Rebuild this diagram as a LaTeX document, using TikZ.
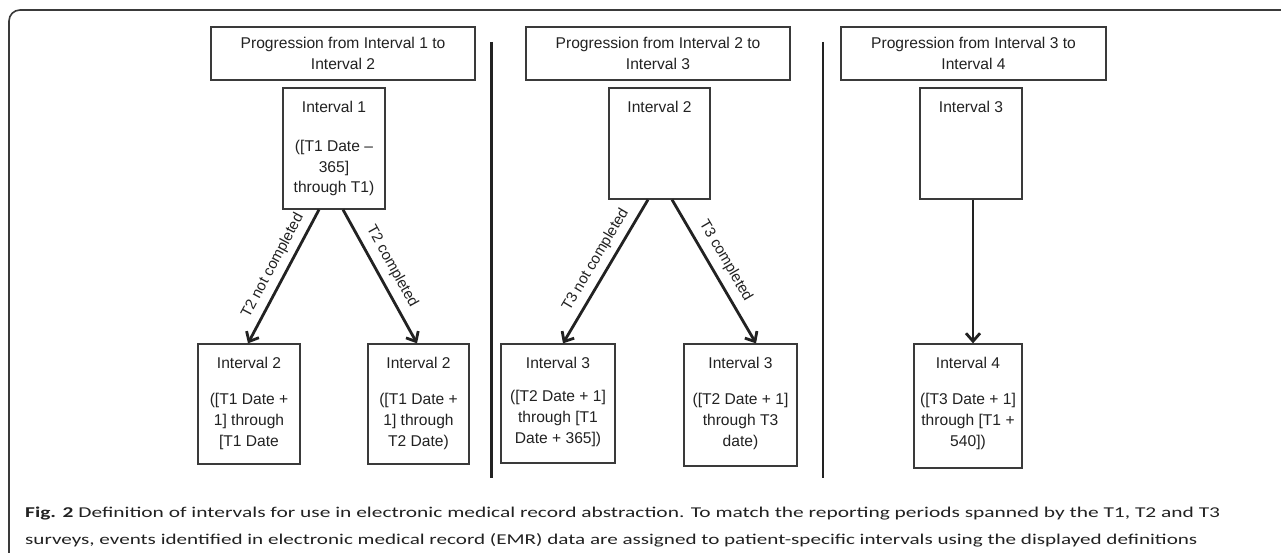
\documentclass[tikz,border=0pt]{standalone}
\usepackage{fontspec}
\setmainfont{Liberation Sans}
\newfontfamily\capfont{Carlito}
\usetikzlibrary{arrows.meta,calc}
\definecolor{ink}{HTML}{222222}
\definecolor{frame}{HTML}{3a3a3a}
\begin{document}
\begin{tikzpicture}[x=1pt,y=-1pt,
  box/.style={draw=frame, line width=1.3pt, inner sep=0, fill=white},
  hd/.style={font=\fontsize{15.6}{20.5}\selectfont, text=ink, anchor=base, inner sep=0},
  bd/.style={font=\fontsize{15.6}{20.8}\selectfont, text=ink, anchor=north, inner sep=0, align=center},
  ttl/.style={font=\fontsize{15.6}{20.6}\selectfont, text=ink, align=center, inner sep=0},
  arr/.style={draw=ink, line width=2.8pt, -{Straight Barb[length=8pt,width=14pt]}},
  lbl/.style={font=\fontsize{15}{18}\selectfont, text=ink, sloped, inner sep=2pt},
  divider/.style={draw=ink, line width=2.6pt},
  capline/.style={anchor=base west, inner sep=0, text=ink}]
\useasboundingbox (0,0) rectangle (1281,553);
\fill[white] (0,0) rectangle (1281,553);
% frame
\coordinate (fb) at (9,553);
\coordinate (fc) at (9,10);
\coordinate (fr) at (1282,10);
\draw[frame, line width=1.6pt, rounded corners=11pt] (fb) -- (fc) -- (fr);
% dividers
\coordinate (d1t) at (491.5,42);
\coordinate (d1b) at (491.5,478);
\coordinate (d2t) at (823,42);
\coordinate (d2b) at (823,478);
\draw[divider] (d1t) -- (d1b);
\draw[divider] (d2t) -- (d2b);
% title boxes
\node[box, minimum width=264pt, minimum height=53pt] (t1) at (343,53.5) {};
\node[ttl] (t1t) at (t1.center) {Progression from Interval 1 to\\Interval 2};
\node[box, minimum width=264pt, minimum height=53pt] (t2) at (658,53.5) {};
\node[ttl] (t2t) at (t2.center) {Progression from Interval 2 to\\Interval 3};
\node[box, minimum width=265pt, minimum height=53pt] (t3) at (973.5,53.5) {};
\node[ttl] (t3t) at (t3.center) {Progression from Interval 3 to\\Interval 4};
% upper interval boxes
\node[box, minimum width=102pt, minimum height=121pt] (i1) at (334,148.5) {};
\node[hd] (i1h) at ([yshift=-25pt]i1.north) {Interval 1};
\node[bd] (i1b) at ([yshift=-52.5pt]i1.north) {([T1 Date –\\365]\\through T1)};
\node[box, minimum width=101pt, minimum height=111pt] (i2) at (659.5,143.5) {};
\node[hd] (i2h) at ([yshift=-25pt]i2.north) {Interval 2};
\node[box, minimum width=102pt, minimum height=111pt] (i3) at (971,143.5) {};
\node[hd] (i3h) at ([yshift=-25pt]i3.north) {Interval 3};
% lower interval boxes
\node[box, minimum width=102pt, minimum height=120pt] (a) at (249,404) {};
\node[hd] (ah) at ([yshift=-25.5pt]a.north) {Interval 2};
\node[bd] (ab) at ([yshift=-50pt]a.north) {([T1 Date +\\1] through\\{}[T1 Date};
\node[box, minimum width=101pt, minimum height=120pt] (b) at (418.5,404) {};
\node[hd] (bh) at ([yshift=-25.5pt]b.north) {Interval 2};
\node[bd] (bb) at ([yshift=-50pt]b.north) {([T1 Date +\\1] through\\T2 Date)};
\node[box, minimum width=114pt, minimum height=119pt] (c) at (558,403.5) {};
\node[hd] (ch) at ([yshift=-25.5pt]c.north) {Interval 3};
\node[bd] (cb) at ([yshift=-47pt]c.north) {([T2 Date + 1]\\through [T1\\Date + 365])};
\node[box, minimum width=113pt, minimum height=122pt] (d) at (740.5,405) {};
\node[hd] (dh) at ([yshift=-25.5pt]d.north) {Interval 3};
\node[bd] (db) at ([yshift=-50pt]d.north) {([T2 Date + 1]\\through T3\\date)};
\node[box, minimum width=108pt, minimum height=124pt] (e) at (968,406) {};
\node[hd] (eh) at ([yshift=-25.5pt]e.north) {Interval 4};
\node[bd] (eb) at ([yshift=-50pt]e.north) {([T3 Date + 1]\\through [T1 +\\540])};
% arrows
\draw[arr] ([xshift=-15pt]i1.south) -- node[lbl, above=4pt, pos=0.47] (l1) {T2 not completed} ([xshift=-1pt]a.north);
\draw[arr] ([xshift=9pt]i1.south) -- node[lbl, above=5pt, pos=0.48] (l2) {T2 completed} ([xshift=-1.5pt]b.north);
\draw[arr] ([xshift=-11.5pt]i2.south) -- node[lbl, above=4pt, pos=0.47] (l3) {T3 not completed} ([xshift=5pt]c.north);
\draw[arr] ([xshift=12.5pt]i2.south) -- node[lbl, above=5pt, pos=0.48] (l4) {T3 completed} ([xshift=15.5pt]d.north);
\draw[arr] ([xshift=2pt]i3.south) -- ([xshift=5pt]e.north);
% caption
\node[capline] (cap1) at (25,517) {\resizebox{1195pt}{\height}{\capfont\fontsize{15}{18}\selectfont\textbf{Fig. 2} Definition of intervals for use in electronic medical record abstraction. To match the reporting periods spanned by the T1, T2 and T3}};
\node[capline] (cap2) at (25,544) {\resizebox{1172pt}{\height}{\capfont\fontsize{15}{18}\selectfont surveys, events identified in electronic medical record (EMR) data are assigned to patient-specific intervals using the displayed definitions}};
\end{tikzpicture}
\end{document}
